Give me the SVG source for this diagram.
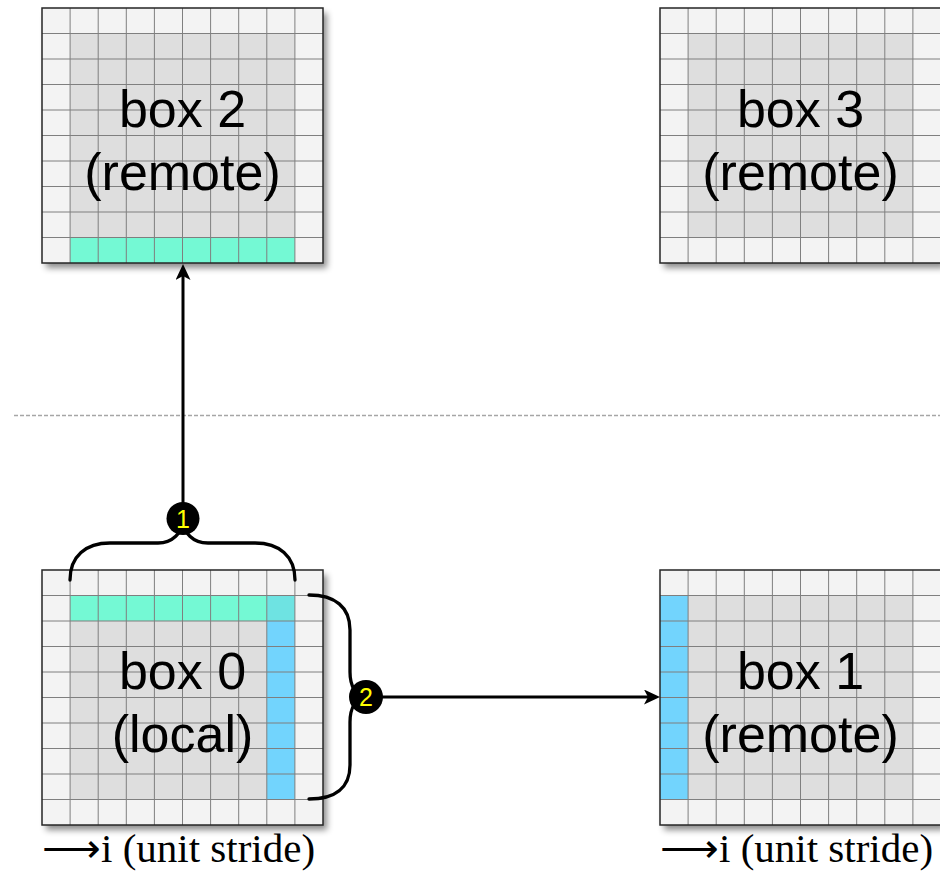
<svg xmlns="http://www.w3.org/2000/svg" xmlns:xlink="http://www.w3.org/1999/xlink" width="940" height="872" viewBox="0 0 940 872">
<style>
.bg{fill:#f3f3f3}
.in{fill:#dedede}
.teal{fill:#74f9d4}
.blue{fill:#72d4fd}
.mix{fill:#6ee3e2}
.gl{fill:none;stroke:#7f7f7f;stroke-width:1}
.frame{fill:none;stroke:#262626;stroke-width:1.5}
.lbl{font-family:"Liberation Sans",Arial,sans-serif;font-size:52px;fill:#000;text-anchor:middle}
.ax{font-family:"Liberation Serif","Times New Roman",serif;font-size:41px;fill:#000}
.brace{fill:none;stroke:#000;stroke-width:3.3;stroke-linecap:round}
.arr{fill:none;stroke:#000;stroke-width:3}
.badge{fill:#000}
.num{font-family:"Liberation Sans",Arial,sans-serif;font-size:25px;fill:#ffff00;text-anchor:middle}
</style>
<defs>
<filter id="sh" x="-10%" y="-10%" width="125%" height="125%">
<feDropShadow dx="4" dy="5" stdDeviation="3" flood-color="#000" flood-opacity="0.45"/>
</filter>
<path id="grid" class="gl" d="M28.1,0V255M56.2,0V255M84.3,0V255M112.4,0V255M140.5,0V255M168.6,0V255M196.7,0V255M224.8,0V255M252.9,0V255M0,25.5H281M0,51H281M0,76.5H281M0,102H281M0,127.5H281M0,153H281M0,178.5H281M0,204H281M0,229.5H281"/>
<marker id="ah" viewBox="0 0 16 15" refX="8" refY="7.5" markerWidth="16" markerHeight="15" markerUnits="userSpaceOnUse" orient="auto">
<path d="M0,0L16,7.5L0,15L4,7.5Z" fill="#000"/>
</marker>
</defs>
<line x1="14" y1="415.5" x2="940" y2="415.5" stroke="#a6a6a6" stroke-width="1.5" stroke-dasharray="4 2"/>
<g id="box2">
<rect class="bg" x="42" y="8" width="281" height="255" filter="url(#sh)"/>
<rect class="in" x="70.1" y="33.5" width="224.8" height="204"/>
<rect class="teal" x="70.1" y="237.5" width="224.8" height="25.5"/>
<use xlink:href="#grid" href="#grid" x="42" y="8"/>
<rect class="frame" x="42" y="8" width="281" height="255"/>
<text class="lbl" x="182.5" y="127">box 2</text>
<text class="lbl" x="182.5" y="190">(remote)</text>
</g>
<g id="box3">
<rect class="bg" x="660" y="8" width="281" height="255" filter="url(#sh)"/>
<rect class="in" x="688.1" y="33.5" width="224.8" height="204"/>
<use xlink:href="#grid" href="#grid" x="660" y="8"/>
<rect class="frame" x="660" y="8" width="281" height="255"/>
<text class="lbl" x="800.5" y="127">box 3</text>
<text class="lbl" x="800.5" y="190">(remote)</text>
</g>
<g id="box0">
<rect class="bg" x="42" y="570" width="281" height="255" filter="url(#sh)"/>
<rect class="in" x="70.1" y="595.5" width="224.8" height="204"/>
<rect class="teal" x="70.1" y="595.5" width="196.7" height="25.5"/>
<rect class="mix" x="266.8" y="595.5" width="28.1" height="25.5"/>
<rect class="blue" x="266.8" y="621" width="28.1" height="178.5"/>
<use xlink:href="#grid" href="#grid" x="42" y="570"/>
<rect class="frame" x="42" y="570" width="281" height="255"/>
<text class="lbl" x="182.5" y="689">box 0</text>
<text class="lbl" x="182.5" y="752">(local)</text>
</g>
<g id="box1">
<rect class="bg" x="660" y="570" width="281" height="255" filter="url(#sh)"/>
<rect class="in" x="688.1" y="595.5" width="224.8" height="204"/>
<rect class="blue" x="660" y="595.5" width="28.1" height="204"/>
<use xlink:href="#grid" href="#grid" x="660" y="570"/>
<rect class="frame" x="660" y="570" width="281" height="255"/>
<text class="lbl" x="800.5" y="689">box 1</text>
<text class="lbl" x="800.5" y="752">(remote)</text>
</g>
<g id="connectors">
<path class="brace" d="M70,580C70,556 86,543 110,543L158,543C172,543 183,533 183,519C183,533 193,543 208,543L255,543C279,543 295,556 295,580"/>
<path class="brace" d="M309,595C335,595 350,607 350,630L350,672C350,686 356,697 366,697C356,697 350,708 350,722L350,765C350,788 335,799 309,799"/>
<line class="arr" x1="183" y1="519" x2="183" y2="272" marker-end="url(#ah)"/>
<line class="arr" x1="366" y1="697" x2="652" y2="697" marker-end="url(#ah)"/>
</g>
<g id="badge1">
<circle class="badge" cx="183" cy="518.5" r="16.5"/>
<text class="num" x="183" y="527.5">1</text>
</g>
<g id="badge2">
<circle class="badge" cx="366" cy="697" r="17"/>
<text class="num" x="366" y="706">2</text>
</g>
<text class="ax" x="42" y="862">⟶i (unit stride)</text>
<text class="ax" x="660" y="862">⟶i (unit stride)</text>
</svg>
